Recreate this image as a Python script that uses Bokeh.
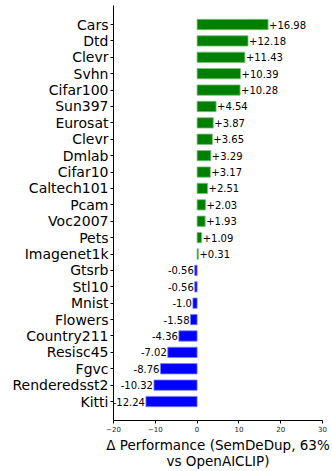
from bokeh.plotting import figure
from bokeh.models import ColumnDataSource, FixedTicker, Range1d
from bokeh.embed import file_html
from bokeh.resources import INLINE
from bokeh.core.properties import value

datasets = ["Cars", "Dtd", "Clevr", "Svhn", "Cifar100", "Sun397", "Eurosat", "Clevr",
            "Dmlab", "Cifar10", "Caltech101", "Pcam", "Voc2007", "Pets", "Imagenet1k",
            "Gtsrb", "Stl10", "Mnist", "Flowers", "Country211", "Resisc45", "Fgvc",
            "Renderedsst2", "Kitti"]
deltas = [16.98, 12.18, 11.43, 10.39, 10.28, 4.54, 3.87, 3.65, 3.29, 3.17, 2.51, 2.03,
          1.93, 1.09, 0.31, -0.56, -0.56, -1.0, -1.58, -4.36, -7.02, -8.76, -10.32, -12.24]
x_ticks = [-20, -10, 0, 10, 20, 30]
x_label = "\u0394 Performance (SemDeDup, 63%\nvs OpenAICLIP)"

n = len(datasets)
ypos = [n - 1 - i for i in range(n)]
colors = ["#008000" if d > 0 else "#0000ff" for d in deltas]
edges = ["#7fbf7f" if d > 0 else "#7f7fff" for d in deltas]
labels = [f"+{d}" if d > 0 else str(d) for d in deltas]

pos = [i for i, d in enumerate(deltas) if d > 0]
neg = [i for i, d in enumerate(deltas) if d <= 0]

src = ColumnDataSource(dict(y=ypos, d=deltas, c=colors, e=edges, lab=labels))
src_pos = ColumnDataSource(dict(y=[ypos[i] for i in pos], d=[deltas[i] for i in pos],
                                lab=[labels[i] for i in pos]))
src_neg = ColumnDataSource(dict(y=[ypos[i] for i in neg], d=[deltas[i] for i in neg],
                                lab=[labels[i] for i in neg]))

p = figure(width=332, height=471, output_backend="svg", toolbar_location=None,
           x_range=Range1d(-20, 30), y_range=Range1d(-1.156, 24.16),
           min_border_left=113, min_border_right=10, min_border_top=5, min_border_bottom=50)

p.hbar(y="y", right="d", left=0, height=0.63, fill_color="c", line_color="e",
       line_width=0.8, source=src)

p.text(x="d", y="y", text="lab", source=src_pos, x_offset=1, text_align="left",
       text_baseline="middle", text_font=value("DejaVu Sans"), text_font_size="10px",
       text_color="black")
p.text(x="d", y="y", text="lab", source=src_neg, x_offset=-1, text_align="right",
       text_baseline="middle", text_font=value("DejaVu Sans"), text_font_size="10px",
       text_color="black")

p.grid.visible = False
p.outline_line_color = None
p.background_fill_color = "white"
p.border_fill_color = "white"

ya = p.yaxis[0]
ya.ticker = FixedTicker(ticks=ypos)
ya.major_label_overrides = {ypos[i]: datasets[i] for i in range(n)}
ya.major_label_text_font = "DejaVu Sans"
ya.major_label_text_font_size = "14px"
ya.major_label_text_color = "black"
ya.major_label_standoff = 2
ya.major_tick_out = 3
ya.major_tick_in = 0
ya.minor_tick_line_color = None
ya.axis_line_color = "black"
ya.major_tick_line_color = "black"

xa = p.xaxis[0]
xa.ticker = FixedTicker(ticks=x_ticks)
xa.major_label_text_font = "DejaVu Sans"
xa.major_label_text_font_size = "7px"
xa.major_label_text_color = "#222222"
xa.major_label_standoff = 2
xa.major_tick_out = 3
xa.major_tick_in = 0
xa.minor_tick_line_color = None
xa.axis_line_color = "black"
xa.major_tick_line_color = "black"
xa.axis_label = x_label
xa.axis_label_text_font = "DejaVu Sans"
xa.axis_label_text_font_size = "13.5px"
xa.axis_label_text_font_style = "normal"
xa.axis_label_text_color = "black"
xa.axis_label_text_line_height = 1.0
xa.axis_label_standoff = 2

open("out.html", "w").write(file_html(p, INLINE))
